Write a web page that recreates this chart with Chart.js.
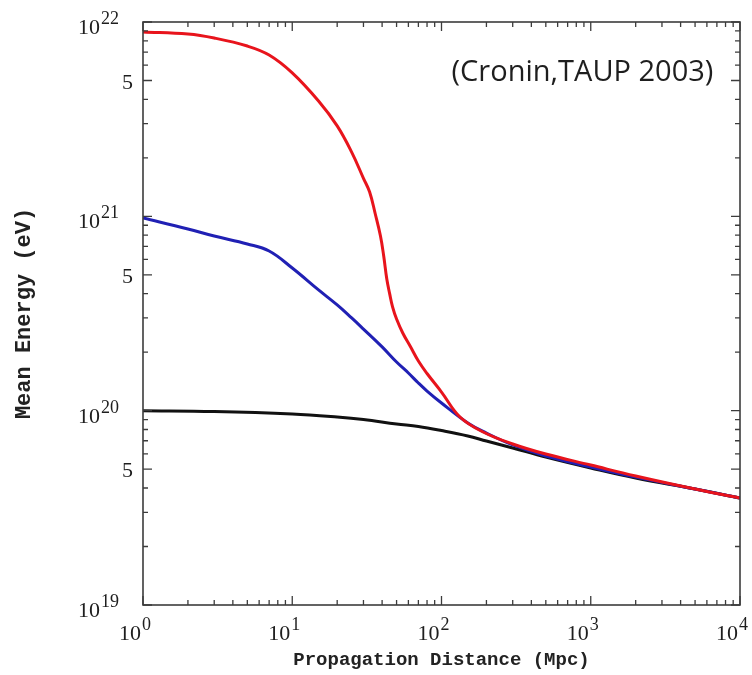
<!DOCTYPE html>
<html><head><meta charset="utf-8">
<script src="https://cdn.jsdelivr.net/npm/chart.js@4.4.1/dist/chart.umd.min.js"></script>
<style>html,body{margin:0;padding:0;background:#fff;} #wrap{width:752px;height:675px;position:relative;}</style>
</head><body><div id="wrap"><canvas id="c" width="752" height="675"></canvas></div>
<script>
// Data (distance in Mpc, mean energy in eV)
const distRed = [1,2,3,5,7,10,15,20,25,30,33,36,39,41,43,45,47,50,55,62,70,80,100,133,190,300,500,1000,2000,5000,10000];
const energyRed = [8.89e21,8.67e21,8.27e21,7.52e21,6.76e21,5.47e21,3.92e21,2.92e21,2.14e21,1.57e21,1.334e21,1.028e21,7.92e20,6.25e20,4.76e20,3.98e20,3.42e20,2.96e20,2.51e20,2.13e20,1.80e20,1.553e20,1.247e20,9.28e19,7.77e19,6.74e19,5.98e19,5.25e19,4.61e19,3.95e19,3.55e19];
const distBlue = [1,2,3,5,7,10,15,20,25,30,40,50,60,70,80,100,150,200,300,500,1000,2000,5000,10000];
const energyBlue = [9.80e20,8.61e20,7.92e20,7.21e20,6.63e20,5.42e20,4.18e20,3.50e20,3.00e20,2.63e20,2.13e20,1.78e20,1.563e20,1.388e20,1.262e20,1.095e20,8.64e19,7.67e19,6.66e19,5.84e19,5.13e19,4.55e19,3.95e19,3.55e19];
const distBlack = [1,3,10,20,30,50,70,100,150,200,300,500,1000,2000,5000,10000];
const energyBlack = [1.0e20,9.90e19,9.61e19,9.28e19,9.01e19,8.54e19,8.29e19,7.90e19,7.41e19,6.98e19,6.43e19,5.77e19,5.07e19,4.50e19,3.95e19,3.55e19];
const xDecades = [0,1,2,3,4];
const yDecades = [19,20,21,22];
const yExtraLabels = [5];
const xTitle = 'Propagation Distance (Mpc)';
const yTitle = 'Mean Energy (eV)';
const annotationText = '(Cronin,TAUP 2003)';

const SUP = {'0':'\u2070','1':'\u00B9','2':'\u00B2','3':'\u00B3','4':'\u2074','5':'\u2075','6':'\u2076','7':'\u2077','8':'\u2078','9':'\u2079','-':'\u207B'};
function supStr(n){ return String(n).split('').map(c=>SUP[c]).join(''); }
function buildTicks(decs){
  const t=[];
  for(let i=0;i<decs.length;i++){
    const e=decs[i];
    if(i===decs.length-1){ t.push({value:Math.pow(10,e), major:true}); break; }
    for(let s=1;s<=9;s++) t.push({value:s*Math.pow(10,e), major:s===1});
  }
  return t;
}
function decadeOf(v){ const e=Math.round(Math.log10(v)); return Math.abs(v-Math.pow(10,e))/v<1e-6 ? e : null; }
function significand(v){ const e=Math.floor(Math.log10(v)+1e-9); return Math.round(v/Math.pow(10,e)); }

const pts = (xs, ys) => xs.map((d,i)=>({x:d,y:ys[i]}));

const BASE_FONT = '22px "Liberation Serif", "DejaVu Serif", serif';
const EXP_FONT = '18px "Liberation Serif", "DejaVu Serif", serif';
const INK = '#1e1e1e';

function drawPower(ctx, exp, rightOf10, baseline){
  ctx.font = BASE_FONT;
  ctx.textAlign = 'right';
  ctx.fillText('10', rightOf10, baseline);
  ctx.font = EXP_FONT;
  ctx.textAlign = 'left';
  ctx.fillText(String(exp), rightOf10 + 1, baseline - 10);
}

const framePlugin = {
  id:'frame',
  afterDatasetsDraw(chart){
    const {ctx, chartArea:a, scales:{x,y}} = chart;
    ctx.save();
    ctx.strokeStyle='#3c3c3c';
    ctx.lineWidth=1.6;
    ctx.strokeRect(a.left,a.top,a.right-a.left,a.bottom-a.top);
    ctx.lineWidth=1.3;
    ctx.beginPath();
    x.ticks.forEach(t=>{
      const px=x.getPixelForValue(t.value);
      const len = decadeOf(t.value)!==null ? 9 : 5;
      ctx.moveTo(px,a.bottom); ctx.lineTo(px,a.bottom-len);
      ctx.moveTo(px,a.top); ctx.lineTo(px,a.top+len);
    });
    y.ticks.forEach(t=>{
      const py=y.getPixelForValue(t.value);
      const sig=significand(t.value);
      const len = (decadeOf(t.value)!==null || yExtraLabels.includes(sig)) ? 9 : 5;
      ctx.moveTo(a.left,py); ctx.lineTo(a.left+len,py);
      ctx.moveTo(a.right,py); ctx.lineTo(a.right-len,py);
    });
    ctx.stroke();

    // tick labels (powers of ten with raised exponents)
    ctx.fillStyle = INK;
    ctx.textBaseline = 'alphabetic';
    x.ticks.forEach(t=>{
      const e = decadeOf(t.value);
      if(e===null) return;
      const px = x.getPixelForValue(t.value);
      drawPower(ctx, e, px-2, a.bottom+35);
    });
    y.ticks.forEach(t=>{
      const py = y.getPixelForValue(t.value);
      const e = decadeOf(t.value);
      if(e!==null){ drawPower(ctx, e, a.left-43, py+12); return; }
      const s = significand(t.value);
      if(yExtraLabels.includes(s)){
        ctx.font = BASE_FONT; ctx.textAlign='right';
        ctx.fillText(String(s), a.left-10, py+8);
      }
    });

    ctx.fillStyle='#1e1e1e';
    ctx.font='29px "Open Sans"';
    ctx.textAlign='center';
    ctx.textBaseline='middle';
    ctx.fillText(annotationText, x.getPixelForValue(880), y.getPixelForValue(5.5e21));
    ctx.restore();
  }
};

new Chart(document.getElementById('c'), {
  type:'line',
  data:{
    datasets:[
      {label:'red', data:pts(distRed, energyRed), borderColor:'#e8141c', borderWidth:3},
      {label:'blue', data:pts(distBlue, energyBlue), borderColor:'#2020b4', borderWidth:3},
      {label:'black', data:pts(distBlack, energyBlack), borderColor:'#111111', borderWidth:3}
    ]
  },
  options:{
    responsive:false,
    animation:false,
    elements:{point:{radius:0}, line:{tension:0.4, fill:false, borderJoinStyle:'round'}},
    layout:{padding:{top:22,right:12,left:0,bottom:0}},
    plugins:{legend:{display:false}, tooltip:{enabled:false}},
    scales:{
      x:{
        type:'logarithmic', min:1, max:1e4, position:'bottom',
        afterBuildTicks(s){ s.ticks = buildTicks(xDecades); },
        afterFit(s){ s.height=70; s.paddingLeft=0; s.paddingRight=0; },
        grid:{display:false}, border:{display:false},
        ticks:{display:false, autoSkip:false, maxRotation:0, minRotation:0,
          callback(v){ const e=decadeOf(v); return e!==null ? '10'+supStr(e) : ''; }},
        title:{display:true, text:xTitle, color:'#222', padding:{top:0,bottom:3},
          font:{family:'"Liberation Mono", monospace', size:19, weight:'bold'}}
      },
      y:{
        type:'logarithmic', min:1e19, max:1e22, position:'left',
        afterBuildTicks(s){ s.ticks = buildTicks(yDecades); },
        afterFit(s){ s.width=143; s.paddingTop=0; s.paddingBottom=0; },
        grid:{display:false}, border:{display:false},
        ticks:{display:false, autoSkip:false,
          callback(v){ const e=decadeOf(v); if(e!==null) return '10'+supStr(e); const s=significand(v); return yExtraLabels.includes(s)?String(s):''; }},
        title:{display:true, text:yTitle, color:'#222', padding:{top:11,bottom:0},
          font:{family:'"Liberation Mono", monospace', size:22, weight:'bold'}}
      }
    }
  },
  plugins:[framePlugin]
});
</script>
</body></html>
